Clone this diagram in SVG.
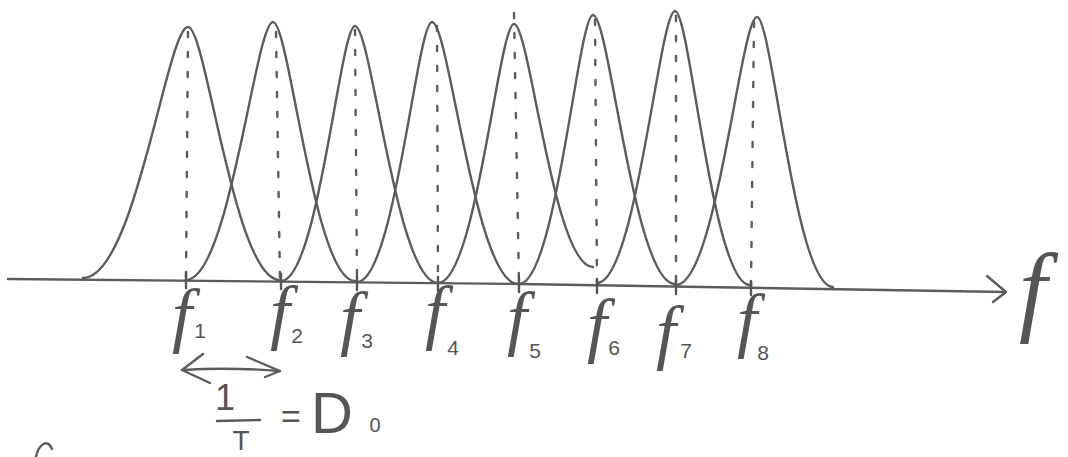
<svg xmlns="http://www.w3.org/2000/svg" width="1068" height="457" viewBox="0 0 1068 457">
<style>
.c{fill:none;stroke:#5c5c5c;stroke-width:2.4;stroke-linecap:round;stroke-linejoin:round}
.d{fill:none;stroke:#5c5c5c;stroke-width:2.4;stroke-dasharray:5 15;stroke-linecap:round}
.t{fill:none;stroke:#555;stroke-width:2.4;stroke-linecap:round}
.f{font-family:"Liberation Serif",serif;font-style:italic;font-size:72px;fill:#555;text-anchor:middle}
.s{font-family:"Liberation Sans",sans-serif;font-size:21px;fill:#555;text-anchor:middle}
.m{font-family:"Liberation Sans",sans-serif;fill:#555;text-anchor:middle}
</style>
<rect width="1068" height="457" fill="#fff"/>
<g id="axis">
<path class="c" d="M8,279 L520,284 L1005,292"/>
<path class="c" d="M987,276 L1006,292 L993,302"/>
</g>
<g id="curves">
<path id="curve1" class="c" d="M83,278 C135.5,278 167,27 188,27 C206.4,27 234,280 280,280"/>
<path id="curve2" class="c" d="M186,280 C229.5,280 255.6,22 273,22 C289.4,22 314,281 355,281"/>
<path id="curve3" class="c" d="M281,281 C318,281 340.2,26 355,26 C371.6,26 396.5,283 438,283"/>
<path id="curve4" class="c" d="M357,282 C394.5,282 417,22 432,22 C449.2,22 475,284 518,284"/>
<path id="curve5" class="c" d="M438,283 C476,283 498.8,24 514,24 C529.8,24 553.5,267 593,267"/>
<path id="curve6" class="c" d="M519,284 C556,284 578.2,15 593,15 C609.4,15 634,284 675,284"/>
<path id="curve7" class="c" d="M597,283 C636,283 659.4,11 675,11 C690,11 712.5,285 750,285"/>
<path id="curve8" class="c" d="M676,285 C716.5,285 740.8,17 757,17 C772.2,17 795,287 833,287"/>
</g>
<g id="dashes">
<line class="d" x1="188" y1="32" x2="186" y2="280"/>
<line class="d" x1="276" y1="32" x2="280" y2="280"/>
<line class="d" x1="355" y1="30" x2="357" y2="281"/>
<line class="d" x1="437" y1="26" x2="438" y2="283"/>
<line class="d" x1="514" y1="13" x2="519" y2="284"/>
<line class="d" x1="595" y1="20" x2="597" y2="283"/>
<line class="d" x1="676" y1="16" x2="676" y2="285"/>
<line class="d" x1="754" y1="22" x2="751" y2="286"/>
</g>
<g id="ticks">
<path class="t" d="M186,273 V288 M281,274 V289 M357,276 V290 M438,277 V291 M519,278 V292 M597,279 V293 M676,280 V294 M751,281 V295"/>
</g>
<g id="label-f1"><text class="f" x="182" y="339">f</text><text class="s" x="200" y="338">1</text></g>
<g id="label-f2"><text class="f" x="280" y="336">f</text><text class="s" x="297" y="343">2</text></g>
<g id="label-f3"><text class="f" x="350" y="342">f</text><text class="s" x="367" y="348">3</text></g>
<g id="label-f4"><text class="f" x="435" y="336">f</text><text class="s" x="453" y="355">4</text></g>
<g id="label-f5"><text class="f" x="517" y="342">f</text><text class="s" x="535" y="358">5</text></g>
<g id="label-f6"><text class="f" x="597" y="349">f</text><text class="s" x="614" y="355">6</text></g>
<g id="label-f7"><text class="f" x="666" y="356">f</text><text class="s" x="686" y="358">7</text></g>
<g id="label-f8"><text class="f" x="747" y="344">f</text><text class="s" x="763" y="360">8</text></g>
<g id="label-f"><text class="f" x="1033" y="323" style="font-size:100px">f</text></g>
<g id="spacing">
<path class="c" d="M182,370 Q230,367 280,371"/>
<path class="c" d="M203,354 L182,370 L210,383"/>
<path class="c" d="M247,357 L280,371 L265,377"/>
</g>
<g id="formula">
<text class="m" x="225" y="410" style="font-size:36px">1</text>
<line class="t" x1="217" y1="421" x2="260" y2="420"/>
<text class="m" x="241" y="450" style="font-size:28px">T</text>
<text class="m" x="291" y="428" style="font-size:34px">=</text>
<text class="m" x="332" y="433" style="font-size:58px">D</text>
<text class="m" x="375" y="432" style="font-size:20px">0</text>
</g>
<path id="cut-mark" class="c" d="M36,457 C38,446 47,437 52,449"/>
</svg>
